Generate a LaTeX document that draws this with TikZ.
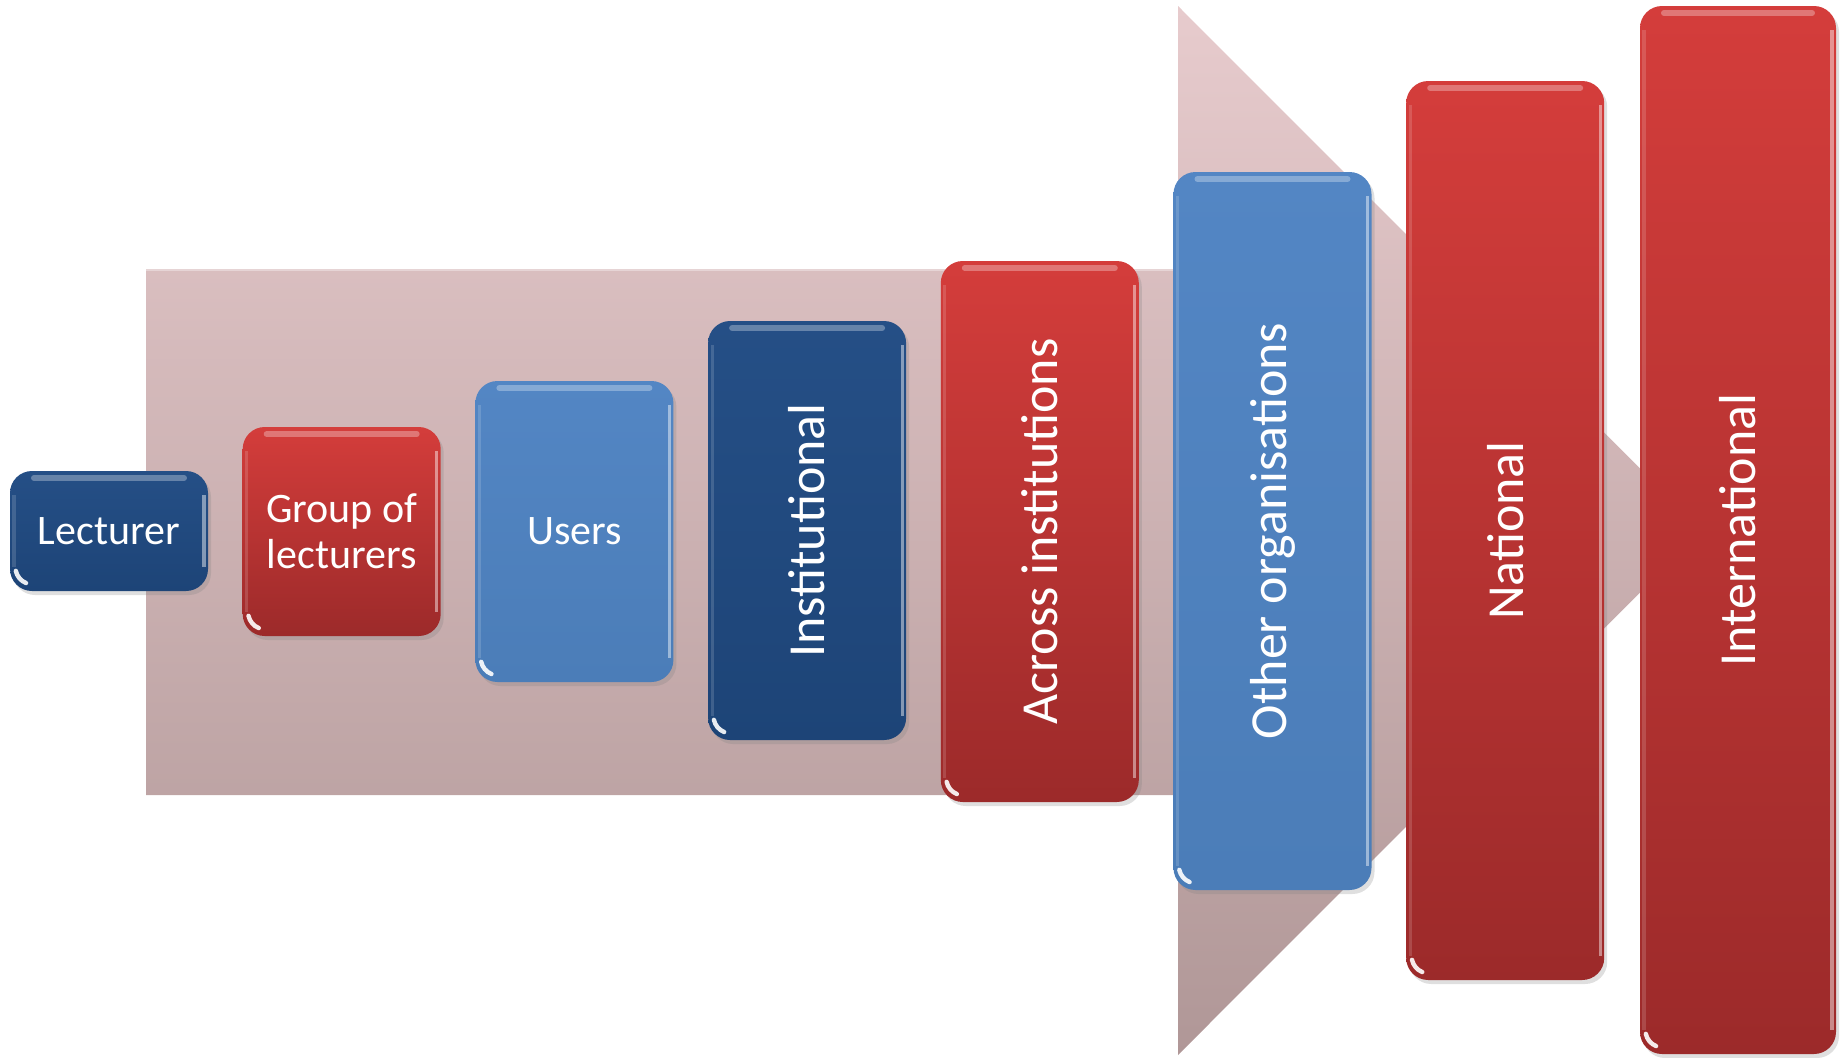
\documentclass[tikz,border=0pt]{standalone}
\usepackage{fontspec}
\setmainfont{Carlito}
\usetikzlibrary{shadows}

\definecolor{arrowtop}{HTML}{E7CBCD}
\definecolor{arrowbot}{HTML}{B09797}
\definecolor{navytop}{HTML}{254F86}
\definecolor{navybot}{HTML}{1D4477}
\definecolor{redtop}{HTML}{D43D3B}
\definecolor{redbot}{HTML}{9C2A2A}
\definecolor{skytop}{HTML}{5386C4}
\definecolor{skybot}{HTML}{4B7DB8}

\tikzset{
  level/.style={rectangle, rounded corners=11pt, inner sep=0pt,
    minimum width=99pt, text=white, align=center,
    drop shadow={shadow xshift=1.5pt, shadow yshift=-2pt, opacity=0.25},
    path picture={
      % glossy top rim
      \draw[white, opacity=0.3, line width=3pt, line cap=round]
        ([xshift=12pt,yshift=-3.5pt]path picture bounding box.north west) --
        ([xshift=-12pt,yshift=-3.5pt]path picture bounding box.north east);
      % bright right bevel
      \draw[white, opacity=0.45, line width=1.6pt]
        ([xshift=-2pt,yshift=-12pt]path picture bounding box.north east) --
        ([xshift=-2pt,yshift=12pt]path picture bounding box.south east);
      % faint left bevel
      \draw[white, opacity=0.15, line width=1.6pt]
        ([xshift=2pt,yshift=-12pt]path picture bounding box.north west) --
        ([xshift=2pt,yshift=12pt]path picture bounding box.south west);
      % glint hugging the lower left corner
      \draw[white, opacity=0.9, line width=2.2pt, line cap=round]
        ([xshift=2.9pt,yshift=10.1pt]path picture bounding box.south west)
        arc[start angle=192, end angle=248, radius=8.5pt];
    }},
  navybox/.style={level, top color=navytop, bottom color=navybot},
  redbox/.style={level, top color=redtop, bottom color=redbot},
  skybox/.style={level, top color=skytop, bottom color=skybot},
  flat/.style={font=\fontsize{21}{23}\selectfont},
  tall/.style={font=\fontsize{26}{30}\selectfont}
}

\begin{document}
\begin{tikzpicture}[x=0.5pt, y=-0.5pt]
\useasboundingbox (0,0) rectangle (1843,1057);

% broad arrow in the background
\path[top color=arrowtop, bottom color=arrowbot]
  (146,269) -- (1178,269) -- (1178,6) -- (1702,530.5) -- (1178,1055)
  -- (1178,795) -- (146,795) -- cycle;
\draw[white, opacity=0.35, line width=1pt] (146,270) -- (1178,270);

% levels, from the single lecturer outwards
\node[navybox, flat, minimum height=60pt]    (lect)  at (109,531)    {Lecturer};
\node[redbox,  flat, minimum height=104.5pt] (group) at (341.7,531.5) {Group of\\lecturers};
\node[skybox,  flat, minimum height=150.5pt] (users) at (574.4,531.5) {Users};
\node[navybox, tall, minimum height=209.5pt] (inst)  at (807.1,530.5) {\rotatebox{90}{Institutional}};
\node[redbox,  tall, minimum height=270.5pt] (across) at (1039.8,531.5) {\rotatebox{90}{Across institutions}};
\node[skybox,  tall, minimum height=359pt]   (other) at (1272.5,531) {\rotatebox{90}{Other organisations}};
\node[redbox,  tall, minimum height=449.5pt] (natl)  at (1505.2,530.5) {\rotatebox{90}{National}};
\node[redbox,  tall, minimum height=524pt, minimum width=98pt] (intl) at (1738,530) {\rotatebox{90}{International}};
\end{tikzpicture}
\end{document}
